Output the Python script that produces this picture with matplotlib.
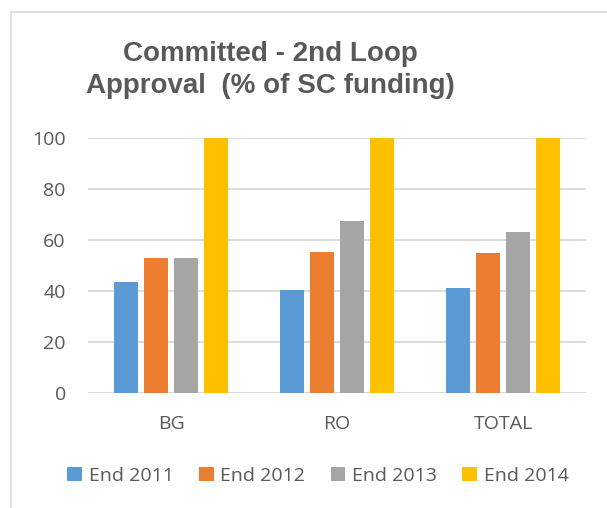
import numpy as np
import matplotlib.pyplot as plt
from matplotlib.patches import Rectangle

# Chart data
categories = ["BG", "RO", "TOTAL"]
series_names = ["End 2011", "End 2012", "End 2013", "End 2014"]
end_2011 = [43.5, 40.4, 41.2]
end_2012 = [53.1, 55.5, 55.0]
end_2013 = [53.1, 67.3, 63.2]
end_2014 = [100, 100, 100]
y_ticks = [0, 20, 40, 60, 80, 100]

COLORS = ["#5B9BD5", "#ED7D31", "#A5A5A5", "#FFC000"]
TEXT = "#595959"
GRID = "#D9D9D9"

fig = plt.figure(figsize=(6.07, 5.08), dpi=100)
ax = fig.add_axes([88 / 607, (508 - 392.7) / 508, 498 / 607, 254.4 / 508])

# outer chart frame (only left/top visible in the crop)
fig.patches.append(Rectangle((11 / 607, -0.1), 1.2, (508 - 12) / 508 + 0.1,
                             transform=fig.transFigure, fill=False,
                             edgecolor=GRID, linewidth=1.2))

x = np.arange(len(categories))
bar_w = 24 / 166
step = 30 / 166
all_series = [end_2011, end_2012, end_2013, end_2014]
for i, (vals, name) in enumerate(zip(all_series, series_names)):
    offs = (i - 1.5) * step
    ax.bar(x + offs, vals, width=bar_w, color=COLORS[i], label=name, zorder=3)

ax.set_xlim(-0.5, 2.5)
ax.set_ylim(0, 100)
ax.set_yticks(y_ticks)
ax.set_xticks(x)
ax.set_xticklabels(categories)
ax.yaxis.grid(True, color=GRID, linewidth=1.3, zorder=0)
ax.tick_params(axis="both", length=0, colors=TEXT, labelsize=14)
ax.tick_params(axis="y", pad=16)
ax.tick_params(axis="x", pad=16)
for lbl in ax.get_xticklabels() + ax.get_yticklabels():
    lbl.set_fontfamily("Open Sans")
for s in ax.spines.values():
    s.set_visible(False)
ax.axhline(0, color=GRID, linewidth=1.3, zorder=1)

fig.text(270 / 607, 1 - 70 / 508, "Committed - 2nd Loop\nApproval  (% of SC funding)",
         ha="center", va="center", fontsize=20, fontweight="bold",
         color=TEXT, family="Liberation Sans", linespacing=1.32)

leg = fig.legend(loc="center", bbox_to_anchor=(318 / 607, 1 - 476 / 508), ncol=4,
                 frameon=False, handlelength=0.75, handleheight=0.75,
                 handletextpad=0.35, columnspacing=1.3,
                 prop={"family": "Open Sans", "size": 14})
for t in leg.get_texts():
    t.set_color(TEXT)

fig.savefig("out.png", dpi=100)
